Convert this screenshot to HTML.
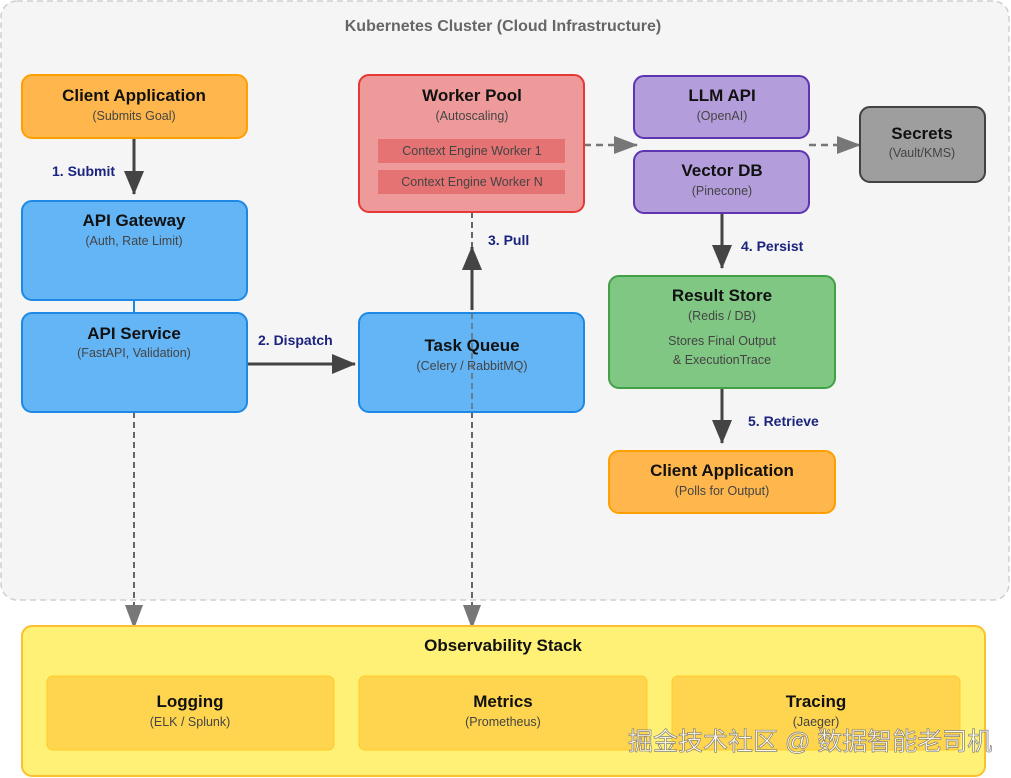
<!DOCTYPE html>
<html><head><meta charset="utf-8"><style>
body{margin:0;background:#fff;}
svg{display:block;font-family:"Liberation Sans","Noto Sans CJK SC",sans-serif;}
.t{font-weight:bold;font-size:17px;fill:#111;text-anchor:middle;}
.s{font-size:12.5px;fill:#444;text-anchor:middle;}
.l{font-weight:bold;font-size:14px;fill:#1a237e;}
</style></head><body>
<svg width="1011" height="778" viewBox="0 0 1011 778">
<defs>
<marker id="g" markerWidth="24" markerHeight="24" refX="23" refY="12" orient="auto" markerUnits="userSpaceOnUse"><path d="M0,2 L24,12 L0,22z" fill="#444"/></marker>
<marker id="d" markerWidth="24" markerHeight="24" refX="23" refY="12" orient="auto" markerUnits="userSpaceOnUse"><path d="M0,3 L24,12 L0,21z" fill="#777"/></marker>
</defs>
<rect x="1" y="1" width="1008" height="599" rx="16" fill="#f5f5f5" stroke="#d0d0d0" stroke-width="1.5" stroke-dasharray="6,4"/>
<text x="503" y="31" text-anchor="middle" font-weight="bold" font-size="16" fill="#666">Kubernetes Cluster (Cloud Infrastructure)</text>

<line x1="134" y1="138" x2="134" y2="194" stroke="#444" stroke-width="3" marker-end="url(#g)"/>
<text class="l" x="52" y="176">1. Submit</text>
<line x1="134" y1="300" x2="134" y2="313" stroke="#1e88e5" stroke-width="2"/>
<line x1="247" y1="364" x2="355" y2="364" stroke="#444" stroke-width="3" marker-end="url(#g)"/>
<text class="l" x="258" y="345">2. Dispatch</text>
<line x1="472" y1="212" x2="472" y2="628" stroke="#666" stroke-width="2" stroke-dasharray="6,4" marker-end="url(#d)"/>
<line x1="472" y1="310" x2="472" y2="247" stroke="#444" stroke-width="3" marker-end="url(#g)"/>
<text class="l" x="488" y="245">3. Pull</text>
<line x1="134" y1="412" x2="134" y2="628" stroke="#666" stroke-width="2" stroke-dasharray="6,4" marker-end="url(#d)"/>
<line x1="584" y1="145" x2="637" y2="145" stroke="#777" stroke-width="2.5" stroke-dasharray="7,5" marker-end="url(#d)"/>
<line x1="809" y1="145" x2="860" y2="145" stroke="#777" stroke-width="2.5" stroke-dasharray="7,5" marker-end="url(#d)"/>
<line x1="722" y1="213" x2="722" y2="268" stroke="#444" stroke-width="3" marker-end="url(#g)"/>
<text class="l" x="741" y="251">4. Persist</text>
<line x1="722" y1="388" x2="722" y2="443" stroke="#444" stroke-width="3" marker-end="url(#g)"/>
<text class="l" x="748" y="426">5. Retrieve</text>

<rect x="22" y="75" width="225" height="63" rx="10" fill="#ffb74d" stroke="#ffa000" stroke-width="2"/>
<text class="t" x="134" y="101">Client Application</text><text class="s" x="134" y="120">(Submits Goal)</text>

<rect x="22" y="201" width="225" height="99" rx="10" fill="#64b5f6" stroke="#1e88e5" stroke-width="2"/>
<text class="t" x="134" y="226">API Gateway</text><text class="s" x="134" y="245">(Auth, Rate Limit)</text>

<rect x="22" y="313" width="225" height="99" rx="10" fill="#64b5f6" stroke="#1e88e5" stroke-width="2"/>
<text class="t" x="134" y="339">API Service</text><text class="s" x="134" y="357">(FastAPI, Validation)</text>

<rect x="359" y="313" width="225" height="99" rx="10" fill="#64b5f6" stroke="#1e88e5" stroke-width="2"/>
<text class="t" x="472" y="351">Task Queue</text><text class="s" x="472" y="370">(Celery / RabbitMQ)</text>
<line x1="472" y1="313" x2="472" y2="412" stroke="#666" stroke-width="2" stroke-dasharray="6,4" opacity="0.7"/>

<rect x="359" y="75" width="225" height="137" rx="10" fill="#ef9a9a" stroke="#e53935" stroke-width="2"/>
<text class="t" x="472" y="101">Worker Pool</text><text class="s" x="472" y="120">(Autoscaling)</text>
<rect x="378" y="139" width="187" height="24" fill="#e57373"/>
<text class="s" x="472" y="155">Context Engine Worker 1</text>
<rect x="378" y="170" width="187" height="24" fill="#e57373"/>
<text class="s" x="472" y="186">Context Engine Worker N</text>

<rect x="634" y="76" width="175" height="62" rx="10" fill="#b39ddb" stroke="#5e35b1" stroke-width="2"/>
<text class="t" x="722" y="101">LLM API</text><text class="s" x="722" y="120">(OpenAI)</text>
<rect x="634" y="151" width="175" height="62" rx="10" fill="#b39ddb" stroke="#5e35b1" stroke-width="2"/>
<text class="t" x="722" y="176">Vector DB</text><text class="s" x="722" y="195">(Pinecone)</text>

<rect x="860" y="107" width="125" height="75" rx="10" fill="#9e9e9e" stroke="#424242" stroke-width="2"/>
<text class="t" x="922" y="139">Secrets</text><text class="s" x="922" y="157">(Vault/KMS)</text>

<rect x="609" y="276" width="226" height="112" rx="10" fill="#81c784" stroke="#43a047" stroke-width="2"/>
<text class="t" x="722" y="301">Result Store</text><text class="s" x="722" y="320">(Redis / DB)</text>
<text class="s" x="722" y="345">Stores Final Output</text><text class="s" x="722" y="364">&amp; ExecutionTrace</text>

<rect x="609" y="451" width="226" height="62" rx="10" fill="#ffb74d" stroke="#ffa000" stroke-width="2"/>
<text class="t" x="722" y="476">Client Application</text><text class="s" x="722" y="495">(Polls for Output)</text>

<rect x="22" y="626" width="963" height="150" rx="10" fill="#fff176" stroke="#fbc02d" stroke-width="2"/>
<text class="t" x="503" y="651">Observability Stack</text>
<rect x="47" y="676" width="287" height="74" rx="6" fill="#ffd54f" stroke="#ffca28" stroke-width="1"/>
<text class="t" x="190" y="707">Logging</text><text class="s" x="190" y="726">(ELK / Splunk)</text>
<rect x="359" y="676" width="288" height="74" rx="6" fill="#ffd54f" stroke="#ffca28" stroke-width="1"/>
<text class="t" x="503" y="707">Metrics</text><text class="s" x="503" y="726">(Prometheus)</text>
<rect x="672" y="676" width="288" height="74" rx="6" fill="#ffd54f" stroke="#ffca28" stroke-width="1"/>
<text class="t" x="816" y="707">Tracing</text><text class="s" x="816" y="726">(Jaeger)</text>

<text x="628" y="750" font-size="25" fill="#fff" stroke="#777" stroke-width="0.7" opacity="0.9">掘金技术社区 @ 数据智能老司机</text>
</svg>
</body></html>
